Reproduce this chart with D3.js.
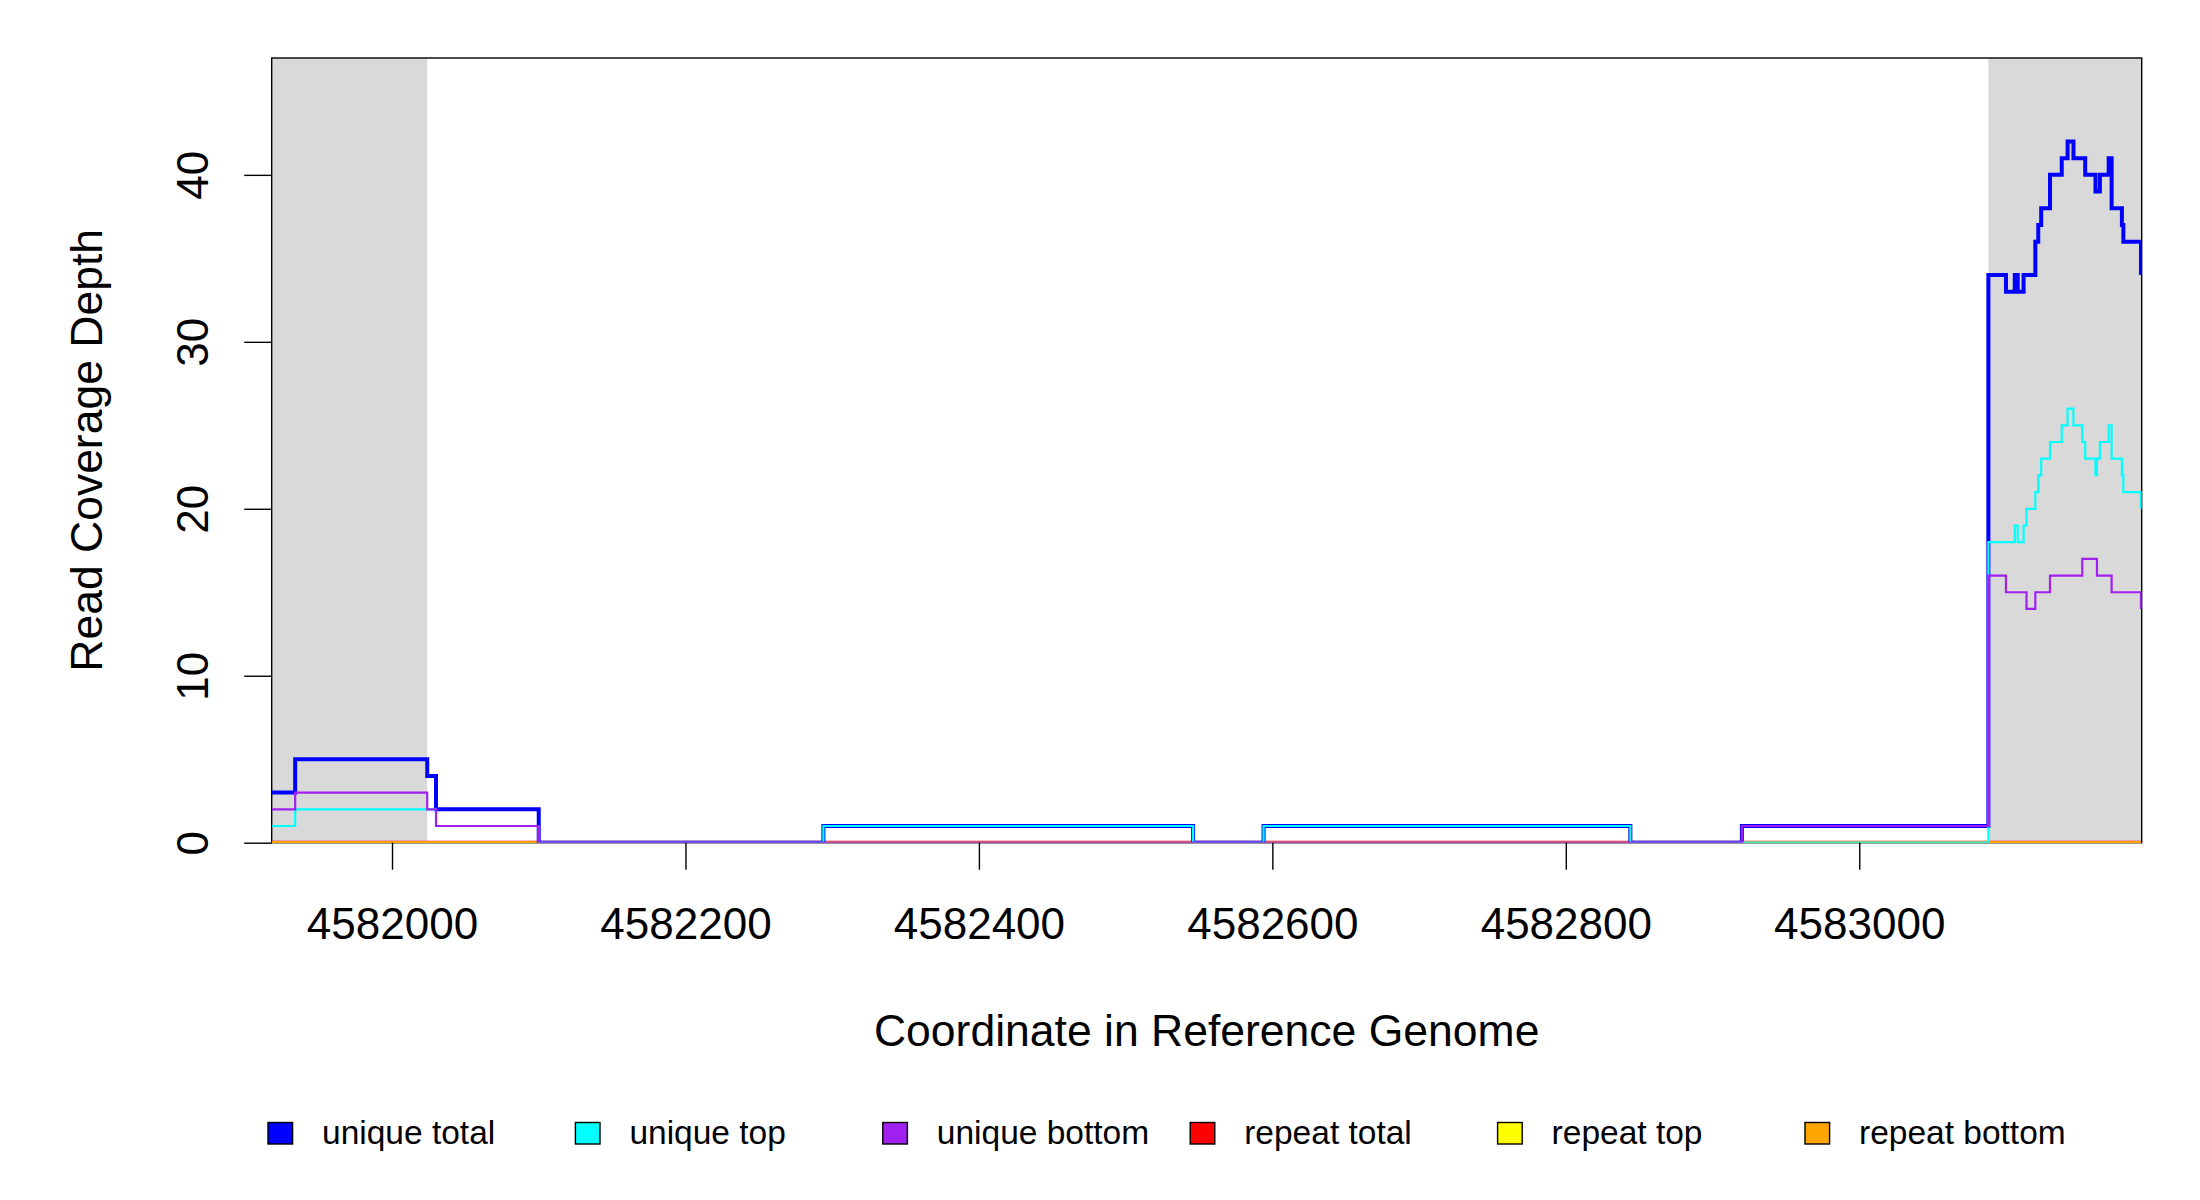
<!DOCTYPE html>
<html>
<head>
<meta charset="utf-8">
<script src="https://cdn.jsdelivr.net/npm/d3@7"></script>
<style>
  body { margin: 0; background: #ffffff; }
  text { font-family: "Liberation Sans", Arial, Helvetica, sans-serif; fill: #000; }
</style>
</head>
<body>
<svg id="chart" width="2200" height="1200"></svg>
<script>
// ---- data (step breakpoints: value holds from this position to the next) ----
const positions = [
  4581918, 4581934, 4582024, 4582030, 4582100, 4582294, 4582546, 4582594, 4582844, 4582920,
  4583088, 4583100, 4583106, 4583108, 4583112, 4583114, 4583120, 4583122, 4583124, 4583130,
  4583138, 4583142, 4583146, 4583152, 4583154, 4583161, 4583162, 4583164, 4583170, 4583172,
  4583179, 4583180, 4583192
];
const uniqueTotal = [
  3, 5, 4, 2, 0, 1, 0, 1, 0, 1,
  34, 33, 34, 33, 34, 34, 36, 37, 38, 40,
  41, 42, 41, 41, 40, 39, 39, 40, 41, 38,
  37, 36, 34
];
const uniqueTop = [
  1, 2, 2, 1, 0, 1, 0, 1, 0, 0,
  18, 18, 19, 18, 19, 20, 21, 22, 23, 24,
  25, 26, 25, 24, 23, 22, 23, 24, 25, 23,
  22, 21, 20
];
const uniqueBottom = [
  2, 3, 2, 1, 0, 0, 0, 0, 0, 1,
  16, 15, 15, 15, 15, 14, 15, 15, 15, 16,
  16, 16, 16, 17, 17, 17, 16, 16, 16, 15,
  15, 15, 14
];
const repeatTotal = [
  0, 0, 0, 0, 0, 0, 0, 0, 0, 0,
  0, 0, 0, 0, 0, 0, 0, 0, 0, 0,
  0, 0, 0, 0, 0, 0, 0, 0, 0, 0,
  0, 0, 0
];
const repeatTop = [
  0, 0, 0, 0, 0, 0, 0, 0, 0, 0,
  0, 0, 0, 0, 0, 0, 0, 0, 0, 0,
  0, 0, 0, 0, 0, 0, 0, 0, 0, 0,
  0, 0, 0
];
const repeatBottom = [
  0, 0, 0, 0, 0, 0, 0, 0, 0, 0,
  0, 0, 0, 0, 0, 0, 0, 0, 0, 0,
  0, 0, 0, 0, 0, 0, 0, 0, 0, 0,
  0, 0, 0
];
const shadedStarts = [4581918, 4583088];
const shadedEnds   = [4582024, 4583192.5];
const xDomain = [4581918, 4583192.5];
const yDomain = [0, 47];
const xTicks = [4582000, 4582200, 4582400, 4582600, 4582800, 4583000];
const yTicks = [0, 10, 20, 30, 40];
const legendLabels = ["unique total", "unique top", "unique bottom", "repeat total", "repeat top", "repeat bottom"];
const legendColors = ["#0000FF", "#00FFFF", "#A020F0", "#FF0000", "#FFFF00", "#FFA500"];

// ---- layout ----
const L = 271.7, R = 2141.7, T = 58, B = 842.7;
const svg = d3.select("#chart");
svg.append("rect").attr("width", 2200).attr("height", 1200).attr("fill", "#fff");

const x = d3.scaleLinear().domain(xDomain).range([L, R]);
const y = d3.scaleLinear().domain(yDomain).range([B, T]);

// shaded regions
svg.append("g").selectAll("rect")
  .data(d3.zip(shadedStarts, shadedEnds))
  .join("rect")
  .attr("x", d => x(d[0]))
  .attr("width", d => x(d[1]) - x(d[0]))
  .attr("y", T).attr("height", B - T)
  .attr("fill", "#D9D9D9");

// box
svg.append("rect")
  .attr("x", L).attr("y", T).attr("width", R - L).attr("height", B - T)
  .attr("fill", "none").attr("stroke", "#000").attr("stroke-width", 1.4);

// clip
svg.append("defs").append("clipPath").attr("id", "plotclip")
  .append("rect").attr("x", L).attr("y", T).attr("width", R - L).attr("height", B - T);

const series = [
  { vals: repeatTotal,  color: "#FF0000", w: 4.0 },
  { vals: repeatTop,    color: "#FFFF00", w: 2.2 },
  { vals: repeatBottom, color: "#FFA500", w: 2.2 },
  { vals: uniqueTotal,  color: "#0000FF", w: 4.0 },
  { vals: uniqueTop,    color: "#00FFFF", w: 2.2 },
  { vals: uniqueBottom, color: "#A020F0", w: 2.2 }
];
const line = d3.line()
  .x(d => x(d[0]))
  .y(d => y(d[1]))
  .curve(d3.curveStepAfter);

const lg = svg.append("g").attr("clip-path", "url(#plotclip)");
series.forEach(s => {
  lg.append("path")
    .datum(d3.zip(positions, s.vals))
    .attr("d", line)
    .attr("fill", "none")
    .attr("stroke", s.color)
    .attr("stroke-width", s.w)
    .attr("stroke-linejoin", "miter")
    .attr("stroke-linecap", "butt");
});

// x axis
const xAxis = svg.append("g").attr("transform", `translate(0,${B})`)
  .call(d3.axisBottom(x).tickValues(xTicks).tickSize(27).tickPadding(38).tickFormat(d3.format("d")));
xAxis.select(".domain").remove();
xAxis.selectAll("line").attr("stroke", "#000").attr("stroke-width", 1.4);
xAxis.selectAll("text").attr("font-size", "44px")
  .attr("font-family", '"Liberation Sans", Arial, sans-serif').attr("fill", "#000");

// y axis
const yAxis = svg.append("g").attr("transform", `translate(${L},0)`)
  .call(d3.axisLeft(y).tickValues(yTicks).tickSize(27.5).tickFormat(d3.format("d")));
yAxis.select(".domain").remove();
yAxis.selectAll("line").attr("stroke", "#000").attr("stroke-width", 1.4);
yAxis.selectAll("text")
  .attr("x", 0).attr("dy", 0)
  .attr("text-anchor", "middle")
  .attr("transform", "translate(-63.4,0) rotate(-90)")
  .attr("font-size", "44px")
  .attr("font-family", '"Liberation Sans", Arial, sans-serif').attr("fill", "#000");

// titles
svg.append("text")
  .attr("x", (L + R) / 2).attr("y", 1046)
  .attr("text-anchor", "middle").attr("font-size", "44.5px")
  .text("Coordinate in Reference Genome");
svg.append("text")
  .attr("transform", `translate(101.7,${(T + B) / 2}) rotate(-90)`)
  .attr("text-anchor", "middle").attr("font-size", "44.5px")
  .text("Read Coverage Depth");

// legend
const legX0 = 268, legStep = 307.4, legBase = 1144;
const leg = svg.append("g").selectAll("g")
  .data(d3.zip(legendLabels, legendColors))
  .join("g")
  .attr("transform", (d, i) => `translate(${legX0 + i * legStep},0)`);
leg.append("rect")
  .attr("x", 0).attr("y", legBase - 21.5).attr("width", 24.6).attr("height", 21.5)
  .attr("fill", d => d[1]).attr("stroke", "#000").attr("stroke-width", 1.4);
leg.append("text")
  .attr("x", 54).attr("y", legBase)
  .attr("font-size", "33.5px")
  .text(d => d[0]);
</script>
</body>
</html>
